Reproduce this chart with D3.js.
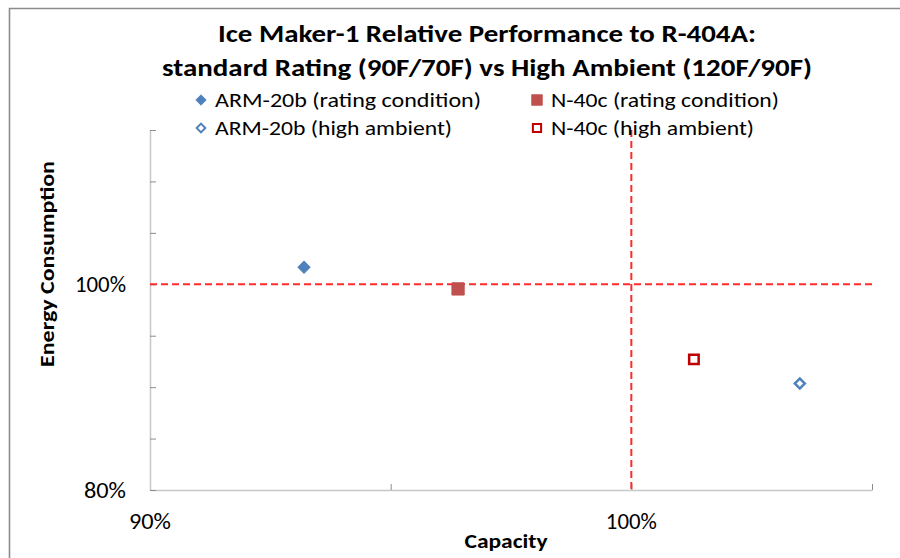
<!DOCTYPE html>
<html>
<head>
<meta charset="utf-8">
<script src="https://cdn.jsdelivr.net/npm/d3@7"></script>
<style>
  html, body { margin: 0; padding: 0; background: #fff; }
  svg { display: block; }
  text { font-family: Carlito, Calibri, Lato, "Open Sans", "Liberation Sans", sans-serif; }
</style>
</head>
<body>
<script>
// ---- data ----
const titleLines = ["Ice Maker-1 Relative Performance to R-404A:", "standard Rating (90F/70F) vs High Ambient (120F/90F)"];
const seriesNames = ["ARM-20b (rating condition)", "N-40c (rating condition)", "ARM-20b (high ambient)", "N-40c (high ambient)"];
const capacity = [0.932, 0.964, 1.035, 1.013];
const energy = [1.0165, 0.9955, 0.9035, 0.927];
const xTicks = [0.90, 0.95, 1.00, 1.05];
const xTickLabels = [0.90, 1.00];
const yTicks = [0.80, 0.85, 0.90, 0.95, 1.00, 1.05, 1.10, 1.15];
const yTickLabels = [0.80, 1.00];
const refX = 1.00, refY = 1.00;

const W = 900, H = 558;
const svg = d3.select("body").append("svg").attr("width", W).attr("height", H);

// chart border (only top/left visible)
svg.append("path").attr("d", "M9.5,558 L9.5,8.5 L900,8.5")
  .attr("fill", "none").attr("stroke", "#8c8c8c").attr("stroke-width", 1.6);

const x = d3.scaleLinear().domain([0.90, 1.05]).range([150, 872]);
const y = d3.scaleLinear().domain([0.80, 1.15]).range([490, 130]);
const fmt = d3.format(".0%");
const labelLen = s => s.length === 4 ? 51 : 42;

// title
const titleWidths = [538, 650];
svg.selectAll("text.title").data(titleLines).join("text")
  .attr("class", "title")
  .attr("x", 487).attr("y", (d, i) => 42 + i * 34)
  .attr("text-anchor", "middle")
  .attr("font-size", 25).attr("font-weight", "bold").attr("fill", "#000")
  .attr("textLength", (d, i) => titleWidths[i])
  .attr("lengthAdjust", "spacingAndGlyphs")
  .text(d => d);

// axes
const xAxis = d3.axisBottom(x).tickValues(xTicks).tickSize(0).tickFormat("");
const gx = svg.append("g").attr("transform", `translate(0,490)`).call(xAxis);
gx.select(".domain").attr("stroke", "#c8c8c8").attr("stroke-width", 1.5);
gx.selectAll(".tick").append("line").attr("y1", 0).attr("y2", -6)
  .attr("stroke", "#8c8c8c").attr("stroke-width", 1);

const yAxis = d3.axisLeft(y).tickValues(yTicks).tickSize(0).tickFormat("");
const gy = svg.append("g").attr("transform", `translate(150,0)`).call(yAxis);
gy.select(".domain").attr("stroke", "#c8c8c8").attr("stroke-width", 1.5);
gy.selectAll(".tick").append("line").attr("x1", 0).attr("x2", 6)
  .attr("stroke", "#8c8c8c").attr("stroke-width", 1);

// tick labels
svg.selectAll("text.xl").data(xTickLabels).join("text").attr("class", "xl")
  .attr("x", d => x(d)).attr("y", 529).attr("text-anchor", "middle")
  .attr("font-size", 23).attr("fill", "#000")
  .attr("textLength", d => labelLen(fmt(d))).attr("lengthAdjust", "spacingAndGlyphs")
  .text(d => fmt(d));
svg.selectAll("text.yl").data(yTickLabels).join("text").attr("class", "yl")
  .attr("x", 126).attr("y", d => y(d) + 8).attr("text-anchor", "end")
  .attr("font-size", 23).attr("fill", "#000")
  .attr("textLength", d => labelLen(fmt(d))).attr("lengthAdjust", "spacingAndGlyphs")
  .text(d => fmt(d));

// axis titles
svg.append("text").attr("x", 506).attr("y", 548).attr("text-anchor", "middle")
  .attr("font-size", 21).attr("font-weight", "bold")
  .attr("textLength", 83).attr("lengthAdjust", "spacingAndGlyphs").text("Capacity");
svg.append("text").attr("transform", "translate(54,264) rotate(-90)")
  .attr("text-anchor", "middle").attr("font-size", 21).attr("font-weight", "bold")
  .attr("textLength", 206).attr("lengthAdjust", "spacingAndGlyphs")
  .text("Energy Consumption");

// reference dashed lines
svg.append("line").attr("x1", x(0.90)).attr("x2", x(1.05)).attr("y1", y(refY)).attr("y2", y(refY))
  .attr("stroke", "#ff2b2b").attr("stroke-width", 2).attr("stroke-dasharray", "7,4");
svg.append("line").attr("x1", x(refX)).attr("x2", x(refX)).attr("y1", y(1.15)).attr("y2", y(0.80))
  .attr("stroke", "#ff2b2b").attr("stroke-width", 2).attr("stroke-dasharray", "7,4");

// marker styles (diamonds are squares rotated 45deg)
const styles = [
  { shape: d3.symbolSquare, rot: 45, size: 72, fill: "#4f81bd", stroke: "#4f81bd", sw: 1 },
  { shape: d3.symbolSquare, rot: 0, size: 150, fill: "#c0504d", stroke: "#c0504d", sw: 1 },
  { shape: d3.symbolSquare, rot: 45, size: 50, fill: "#fff", stroke: "#4f81bd", sw: 2.5 },
  { shape: d3.symbolSquare, rot: 0, size: 90, fill: "#fff", stroke: "#c00000", sw: 2.5 }
];

const pts = capacity.map((c, i) => ({ c, e: energy[i], s: styles[i] }));
svg.selectAll("path.pt").data(pts).join("path").attr("class", "pt")
  .attr("transform", d => `translate(${x(d.c)},${y(d.e)}) rotate(${d.s.rot})`)
  .attr("d", d => d3.symbol().type(d.s.shape).size(d.s.size)())
  .attr("fill", d => d.s.fill).attr("stroke", d => d.s.stroke).attr("stroke-width", d => d.s.sw);

// legend
const legPos = [[201, 100], [537, 100], [201, 128], [537, 128]];
const legWidths = [266, 228, 237, 203];
const leg = svg.selectAll("g.leg").data(seriesNames).join("g").attr("class", "leg")
  .attr("transform", (d, i) => `translate(${legPos[i][0]},${legPos[i][1]})`);
leg.append("path")
  .attr("transform", (d, i) => `rotate(${styles[i].rot})`)
  .attr("d", (d, i) => d3.symbol().type(styles[i].shape).size(styles[i].size * 0.75)())
  .attr("fill", (d, i) => styles[i].fill).attr("stroke", (d, i) => styles[i].stroke)
  .attr("stroke-width", (d, i) => styles[i].sw * 0.8);
leg.append("text").attr("x", 14).attr("y", 7).attr("font-size", 21).attr("fill", "#000")
  .attr("textLength", (d, i) => legWidths[i]).attr("lengthAdjust", "spacingAndGlyphs")
  .text(d => d);
</script>
</body>
</html>
